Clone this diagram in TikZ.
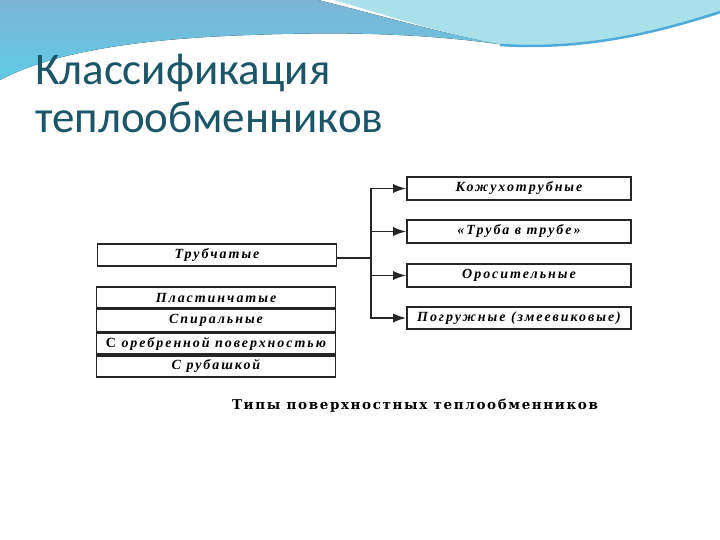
\documentclass[tikz,border=0pt]{standalone}
\usepackage{fontspec}
\setmainfont{Liberation Serif}
\newfontfamily\titlefont{Carlito}
\newfontfamily\scanfont[LetterSpace=14]{Liberation Serif}
\newfontfamily\capfont[LetterSpace=12]{DejaVu Serif}
\usetikzlibrary{arrows.meta}
\usetikzlibrary{positioning}
\definecolor{titleteal}{HTML}{1B5568}
\definecolor{wavetop}{HTML}{7DB4D6}
\definecolor{wavelow}{HTML}{5FCCE4}
\definecolor{wavelight}{HTML}{A9E0EA}
\definecolor{waveline}{HTML}{4FA9D9}

\begin{document}
\begin{tikzpicture}[x=1pt,y=-1pt,
    box/.style={draw=black!85, line width=1.6pt, inner sep=0pt, minimum height=22pt,
      font=\scanfont\bfseries\itshape\fontsize{14}{14}\selectfont},
    leftbox/.style={box, minimum width=239pt},
    rightbox/.style={box, minimum width=224pt},
    link/.style={draw=black!85, line width=1.6pt},
    arr/.style={link, -{Latex[length=13pt,width=9pt]}}]
  \useasboundingbox (0,0) rectangle (720,540);
  % wave at the top
  \fill[top color=wavetop, bottom color=wavelow]
    (0,0) -- (318,0) .. controls (390,18) and (450,36) .. (512,46)
    .. controls (420,32) and (330,32) .. (250,35)
    .. controls (160,38) and (60,48) .. (0,80) -- cycle;
  \fill[wavelight] (334,0) -- (720,0) -- (720,14)
    .. controls (650,35) and (580,48) .. (516,47)
    .. controls (450,36) and (395,18) .. (334,0) -- cycle;
  \draw[waveline, line width=2.5pt] (500,45) .. controls (580,50) and (650,35) .. (720,12);
  % title
  \node[anchor=base west, text=titleteal, font=\titlefont\fontsize{45}{45}\selectfont, inner sep=0pt]
    (title1) at (35,85) {Классификация};
  \node[anchor=base west, text=titleteal, font=\titlefont\fontsize{45}{45}\selectfont, inner sep=0pt]
    (title2) at (35,133) {теплообменников};
  % left column
  \node[leftbox, minimum height=22pt] (tube) at (217,255) {Трубчатые};
  \node[leftbox, minimum height=21pt] (plate) at (216,297.5) {Пластинчатые};
  \node[leftbox, minimum height=22pt, below=0pt of plate] (spiral) {Спиральные};
  \node[leftbox, minimum height=21pt, below=0pt of spiral] (ribbed) {\upshape С\itshape{} оребренной поверхностью};
  \node[leftbox, minimum height=21pt, below=0pt of ribbed] (jacket) {С рубашкой};
  % right column
  \node[rightbox, minimum height=23pt] (shell) at (519,188.5) {Кожухотрубные};
  \node[rightbox, minimum height=23pt] (pipe) at (519,231.5) {«Труба в трубе»};
  \node[rightbox, minimum height=23pt] (irrig) at (519,275.5) {Оросительные};
  \node[rightbox, minimum height=22pt] (immers) at (519,318) {Погружные (змеевиковые)};
  % connectors
  \coordinate (fork) at (371,258);
  \draw[link] (tube.east |- fork) -- (fork);
  \draw[arr] (fork) |- (shell.west);
  \draw[arr] (fork) |- (pipe.west);
  \draw[arr] (fork) |- (irrig.west);
  \draw[arr] (fork) |- (immers.west);
  % caption
  \node[font=\capfont\bfseries\fontsize{13.5}{13.5}\selectfont, inner sep=0pt]
    (caption) at (415,406) {Типы поверхностных теплообменников};
\end{tikzpicture}
\end{document}
